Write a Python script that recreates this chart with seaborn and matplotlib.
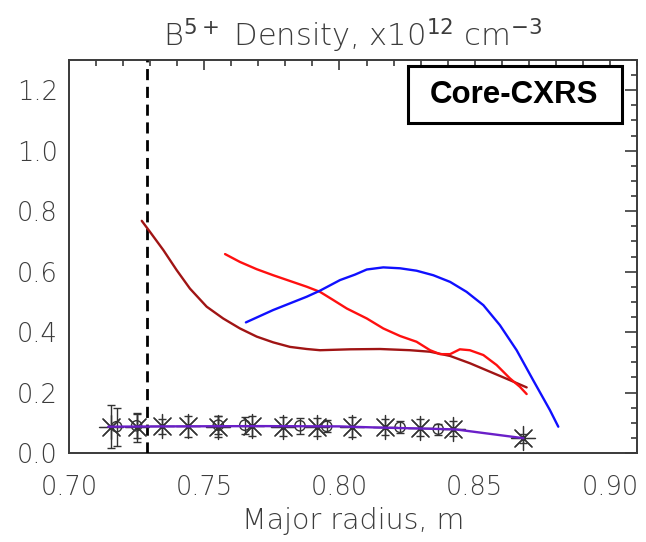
import numpy as np
import pandas as pd
import matplotlib
matplotlib.use("Agg")
import matplotlib.pyplot as plt
from matplotlib.ticker import MultipleLocator, FormatStrFormatter
from matplotlib.patches import Rectangle
import seaborn as sns

# ---------------- data ----------------
darkred_x = [0.7269, 0.7299, 0.7349, 0.7398, 0.7447, 0.7509, 0.7570, 0.7632, 0.7694, 0.7755,
             0.7817, 0.7879, 0.7928, 0.8039, 0.8150, 0.8261, 0.8335, 0.8409, 0.8482, 0.8556,
             0.8630, 0.8692]
darkred_y = [0.768, 0.732, 0.671, 0.605, 0.544, 0.484, 0.445, 0.412, 0.385, 0.366,
             0.351, 0.344, 0.340, 0.343, 0.344, 0.340, 0.335, 0.321, 0.297, 0.269,
             0.241, 0.217]

red_x = [0.7577, 0.7632, 0.7694, 0.7755, 0.7817, 0.7879, 0.7928, 0.7977, 0.8027, 0.8101,
         0.8162, 0.8224, 0.8285, 0.8335, 0.8372, 0.8409, 0.8445, 0.8482, 0.8532, 0.8581,
         0.8630, 0.8667, 0.8692]
red_y = [0.658, 0.632, 0.608, 0.588, 0.569, 0.550, 0.533, 0.506, 0.478, 0.445,
         0.412, 0.387, 0.368, 0.340, 0.327, 0.327, 0.343, 0.340, 0.324, 0.291,
         0.247, 0.219, 0.195]

blue_x = [0.7654, 0.7755, 0.7879, 0.7928, 0.8002, 0.8057, 0.8101, 0.8162, 0.8224, 0.8285,
          0.8347, 0.8409, 0.8470, 0.8532, 0.8593, 0.8655, 0.8716, 0.8778, 0.8809]
blue_y = [0.432, 0.473, 0.517, 0.537, 0.572, 0.590, 0.607, 0.614, 0.611, 0.603,
          0.588, 0.566, 0.533, 0.489, 0.423, 0.340, 0.241, 0.142, 0.087]

purple_x = [0.7145, 0.735, 0.770, 0.800, 0.815, 0.830, 0.843, 0.868]
purple_y = [0.087, 0.088, 0.089, 0.088, 0.084, 0.081, 0.078, 0.049]

star_x = [0.7154, 0.7250, 0.7343, 0.7441, 0.7552, 0.7675, 0.7792, 0.7916, 0.8045, 0.8168,
          0.8298, 0.8421, 0.8680]
star_y = [0.087, 0.085, 0.088, 0.088, 0.087, 0.088, 0.087, 0.087, 0.087, 0.086,
          0.083, 0.080, 0.048]
star_err = [0.072, 0.047, 0.025, 0.035, 0.035, 0.033, 0.032, 0.030, 0.033, 0.026,
            0.028, 0.025, 0.015]

circ_x = [0.7176, 0.7250, 0.7552, 0.7650, 0.7854, 0.7953, 0.8224, 0.8365]
circ_y = [0.087, 0.090, 0.092, 0.092, 0.090, 0.088, 0.085, 0.079]
circ_err = [0.063, 0.040, 0.030, 0.028, 0.027, 0.020, 0.020, 0.018]

vline_x = 0.729

title_text = r"B$^{5+}$ Density, x10$^{12}$ cm$^{-3}$"
xlabel_text = "Major radius, m"
box_text = "Core-CXRS"

# ---------------- plot ----------------
sns.set_theme(style="white")
plt.rcParams['font.family'] = ['DejaVu Sans']
plt.rcParams['mathtext.fontset'] = 'dejavusans'

fig = plt.figure(figsize=(6.46, 5.42), dpi=100)
ax = fig.add_axes([69/646, 1-453/542, 568/646, 393/542])

txtcol = '#3c3c3c'
axcol = '#3a3a3a'

ax.errorbar(star_x, star_y, yerr=star_err, fmt='none', ecolor='#333333',
            elinewidth=1.0, capsize=3.0, capthick=1.0, zorder=4)
ax.errorbar(circ_x, circ_y, yerr=circ_err, fmt='none', ecolor='#333333',
            elinewidth=1.0, capsize=2.6, capthick=1.0, zorder=4)
sns.scatterplot(x=star_x, y=star_y, marker=(8, 2, 0), s=300, color='#333333',
                linewidth=0.9, ax=ax, zorder=5)
sns.scatterplot(x=circ_x, y=circ_y, marker='o', s=55, facecolor='none',
                edgecolor='#333333', linewidth=1.0, ax=ax, zorder=5)

curves = pd.concat([
    pd.DataFrame({'x': darkred_x, 'y': darkred_y, 's': 'darkred'}),
    pd.DataFrame({'x': red_x, 'y': red_y, 's': 'red'}),
    pd.DataFrame({'x': blue_x, 'y': blue_y, 's': 'blue'}),
    pd.DataFrame({'x': purple_x, 'y': purple_y, 's': 'purple'}),
])
palette = {'darkred': '#a01414', 'red': '#ff1010', 'blue': '#1010ff', 'purple': '#6a1fc8'}
sns.lineplot(data=curves, x='x', y='y', hue='s', palette=palette, sort=False,
             estimator=None, legend=False, linewidth=1.7, ax=ax, zorder=6)

ax.axvline(vline_x, color='black', linestyle=(0, (4, 2.4)), linewidth=2.0, zorder=3)

ax.set_xlim(0.70, 0.91)
ax.set_ylim(0.0, 1.3)
ax.xaxis.set_major_locator(MultipleLocator(0.05))
ax.xaxis.set_minor_locator(MultipleLocator(0.01))
ax.yaxis.set_major_locator(MultipleLocator(0.2))
ax.yaxis.set_minor_locator(MultipleLocator(0.05))
ax.xaxis.set_major_formatter(FormatStrFormatter('%.2f'))
ax.yaxis.set_major_formatter(FormatStrFormatter('%.1f'))

ax.tick_params(which='both', direction='in', top=True, right=True, colors=axcol,
               labelcolor=txtcol, width=1.2)
ax.tick_params(axis='x', which='major', length=7, pad=16, labelsize=18.5)
ax.tick_params(axis='x', which='minor', length=4)
ax.tick_params(axis='y', which='major', length=9, pad=8, labelsize=18.5)
ax.tick_params(axis='y', which='minor', length=4.5)
for lab in ax.get_xticklabels() + ax.get_yticklabels():
    lab.set_fontweight('light')
for sp in ax.spines.values():
    sp.set_color(axcol)
    sp.set_linewidth(1.4)

ax.set_xlabel(xlabel_text, fontsize=20.5, color=txtcol, labelpad=5, fontweight='light')
ax.set_ylabel('')
ax.set_title(title_text, fontsize=22, color=txtcol, pad=10, fontweight='light')

ax.add_patch(Rectangle((0.597, 0.840), 0.377, 0.145, transform=ax.transAxes,
                       facecolor='white', edgecolor='black', linewidth=2.2, zorder=7))
ax.text(0.783, 0.910, box_text, transform=ax.transAxes, ha='center', va='center',
        fontsize=22.5, fontweight='bold', family='Liberation Sans', color='black', zorder=8)

fig.savefig('out.png', dpi=100)
